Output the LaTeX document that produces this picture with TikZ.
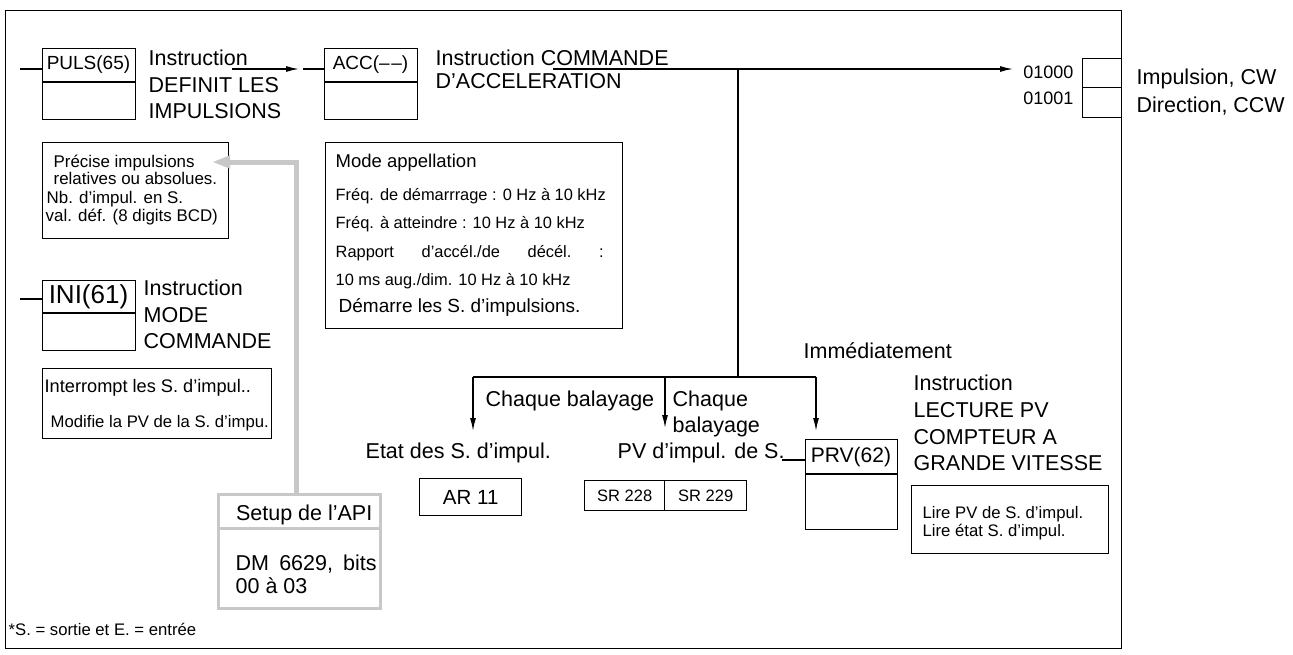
\documentclass[tikz,border=0pt]{standalone}
\usepackage{fontspec}
\setmainfont{Liberation Sans}
\usetikzlibrary{arrows.meta}
\definecolor{gray1}{RGB}{200,200,200}
\begin{document}
\begin{tikzpicture}[x=1pt,y=-1pt, line width=1.35pt,
 txt/.style={inner sep=0pt, anchor=base west},
 big/.style={txt, font=\fontsize{21.5}{26}\selectfont},
 mid/.style={txt, font=\fontsize{18.5}{22}\selectfont},
 sm/.style={txt, font=\fontsize{16.7}{20}\selectfont},
 lbl/.style={inner sep=0pt, font=\fontsize{19}{22}\selectfont},
 box/.style={draw, line width=1.35pt, inner sep=0pt, anchor=north west},
 arr/.style={-{Latex[length=13pt,width=6pt]}},
 garr/.style={draw=gray1, line width=5pt, -{Triangle[length=18pt,width=12pt]}},
]
\useasboundingbox (0,0) rectangle (1293,654);
% frame
\node[box, minimum width=1116pt, minimum height=638pt] (frame) at (5,10) {};

% PULS
\node[box, minimum width=93pt, minimum height=71pt] (puls) at (42,48) {};
\draw (puls.west |- 0,82) -- (puls.east |- 0,82);
\node[lbl] (pulsl) at (88.5,65) {PULS(65)};
\coordinate (pulsin) at (20,69);
\draw (pulsin) -- (puls.west |- pulsin);
\node[big] (pt1) at (148,65) {Instruction};
\node[big] (pt2) at (148,92) {DEFINIT LES};
\node[big] (pt3) at (148,118) {IMPULSIONS};
\coordinate (pa) at (232,69);
\coordinate (pb) at (299,69);
\draw[arr] (pa) -- (pb);

% ACC
\node[box, minimum width=93pt, minimum height=71pt] (acc) at (324,48) {};
\draw (acc.west |- 0,82) -- (acc.east |- 0,82);
\node[lbl] (accl) at (370.5,65) {ACC(\textendash\kern1.5pt\textendash)};
\coordinate (accin) at (303,69);
\draw (accin) -- (acc.west |- accin);
\node[big] (at1) at (435,65) {Instruction COMMANDE};
\node[big] (at2) at (435,88) {D’ACCELERATION};

% main line to outputs
\coordinate (ms) at (553,69);
\coordinate (mj) at (738,69);
\coordinate (me) at (1013,69);
\draw[arr] (ms) -- (me);
\coordinate (bj) at (738,377);
\draw (mj) -- (bj);

% outputs
\node[box, minimum width=39pt, minimum height=29pt] (o1) at (1082,58) {};
\node[box, minimum width=39pt, minimum height=30pt] (o2) at (1082,87) {};
\node[txt, anchor=base east, font=\fontsize{18}{20}\selectfont] (o1l) at (1074,78) {01000};
\node[txt, anchor=base east, font=\fontsize{18}{20}\selectfont] (o2l) at (1074,104) {01001};
\node[big] (ot1) at (1136,84) {Impulsion, CW};
\node[big] (ot2) at (1136,112) {Direction, CCW};

% Precise box
\node[box, minimum width=186pt, minimum height=96pt] (prec) at (42,142) {};
\node[txt, font=\fontsize{16.9}{20}\selectfont] (pr1) at (53,167) {Précise impulsions};
\node[txt, font=\fontsize{16.9}{20}\selectfont] (pr2) at (53,184) {relatives ou absolues.};
\node[txt, font=\fontsize{16.9}{20}\selectfont] (pr3) at (46,203) {Nb. d’impul. en S.};
\node[txt, font=\fontsize{16.9}{20}\selectfont] (pr4) at (45,221) {val. déf. (8 digits BCD)};

% Mode box
\node[box, minimum width=297pt, minimum height=186pt] (mode) at (325,142) {};
\node[mid] (m1) at (335,167) {Mode appellation};
\node[txt, font=\fontsize{16.4}{20}\selectfont] (m2) at (335,200) {Fréq. de démarrrage : 0 Hz à 10 kHz};
\node[txt, font=\fontsize{16.4}{20}\selectfont] (m3) at (335,228) {Fréq. à atteindre : 10 Hz à 10 kHz};
\node[txt, font=\fontsize{16.4}{20}\selectfont] (m4) at (335,257) {\makebox[268pt][s]{Rapport\hfill d’accél./de\hfill décél.\hfill :}};
\node[txt, font=\fontsize{16.4}{20}\selectfont] (m5) at (335,285) {10 ms aug./dim. 10 Hz à 10 kHz};
\node[txt, font=\fontsize{19}{22}\selectfont] (m6) at (338,312) {Démarre les S. d’impulsions.};

% INI
\node[box, minimum width=93pt, minimum height=70pt] (ini) at (42,280) {};
\draw (ini.west |- 0,313) -- (ini.east |- 0,313);
\node[inner sep=0pt, font=\fontsize{26}{28}\selectfont] (inil) at (88.5,297) {INI(61)};
\coordinate (iniin) at (20,299);
\draw (iniin) -- (ini.west |- iniin);
\node[big] (it1) at (143,295) {Instruction};
\node[big] (it2) at (143,322) {MODE};
\node[big] (it3) at (143,348) {COMMANDE};

% Interrompt box
\node[box, minimum width=229pt, minimum height=70pt] (intr) at (42,368) {};
\node[txt, font=\fontsize{18.2}{22}\selectfont] (in1) at (44,392) {Interrompt les S. d’impul..};
\node[sm] (in2) at (50,427) {Modifie la PV de la S. d’impu.};

% Setup box and gray arrow
\node[box, draw=gray1, line width=3pt, minimum width=162pt, minimum height=114pt] (setup) at (217,493) {};
\draw[draw=gray1, line width=3pt] (setup.west |- 0,528) -- (setup.east |- 0,528);
\node[txt, anchor=base east, font=\fontsize{21.5}{26}\selectfont] (s1) at (373,520) {Setup de l’API};
\node[big] (s2) at (235,570) {\makebox[141pt][s]{DM\hfill 6629,\hfill bits}};
\node[big] (s3) at (235,593) {00 à 03};
\coordinate (gt) at (296,493);
\coordinate (gc) at (296,162);
\coordinate (ge) at (212,162);
\draw[garr] (gt) -- (gc) -- (ge);

% branches
\coordinate (bl) at (473,377);
\coordinate (bm) at (665,377);
\coordinate (br) at (816,377);
\draw (bl) -- (br);
\coordinate (bla) at (473,431);
\coordinate (bma) at (665,428);
\coordinate (bra) at (816,431);
\draw[arr] (bl) -- (bla);
\draw[arr] (bm) -- (bma);
\draw[arr] (br) -- (bra);
\node[big] (c1) at (485,406) {Chaque balayage};
\node[big] (c2) at (672,406) {Chaque};
\node[big] (c3) at (672,432) {balayage};
\node[big] (imm) at (803,358) {Immédiatement};

\node[big] (etat) at (365,458) {Etat des S. d’impul.};
\node[big] (pvt) at (617,458) {PV d’impul. de S.};

% AR box
\node[box, minimum width=102pt, minimum height=37pt] (ar) at (419,478) {};
\node[inner sep=0pt, font=\fontsize{20.5}{24}\selectfont] (arl) at (ar.center) {AR 11};
% SR box
\node[box, minimum width=80pt, minimum height=30pt] (sr1) at (584,480) {};
\node[box, minimum width=82pt, minimum height=30pt] (sr2) at (664,480) {};
\node[inner sep=0pt, font=\fontsize{16.5}{20}\selectfont] (sr1l) at (sr1.center) {SR 228};
\node[inner sep=0pt, font=\fontsize{16.5}{20}\selectfont] (sr2l) at (sr2.center) {SR 229};

% PRV
\node[box, minimum width=92pt, minimum height=90pt] (prv) at (805,439) {};
\draw (prv.west |- 0,474) -- (prv.east |- 0,474);
\node[inner sep=0pt, font=\fontsize{21}{24}\selectfont] (prvl) at (851,457) {PRV(62)};
\coordinate (pvend) at (782,460);
\draw (pvend) -- (prv.west |- pvend);
\node[big] (r1) at (913,390) {Instruction};
\node[big] (r2) at (913,417) {LECTURE PV};
\node[big] (r3) at (913,444) {COMPTEUR A};
\node[big] (r4) at (913,470) {GRANDE VITESSE};

% Lire box
\node[box, minimum width=197pt, minimum height=68pt] (lire) at (911,485) {};
\node[sm] (l1) at (922,518) {Lire PV de S. d’impul.};
\node[sm] (l2) at (922,536) {Lire état S. d’impul.};

% footnote
\node[sm] (foot) at (8,635) {*S. = sortie et E. = entrée};
\end{tikzpicture}
\end{document}
